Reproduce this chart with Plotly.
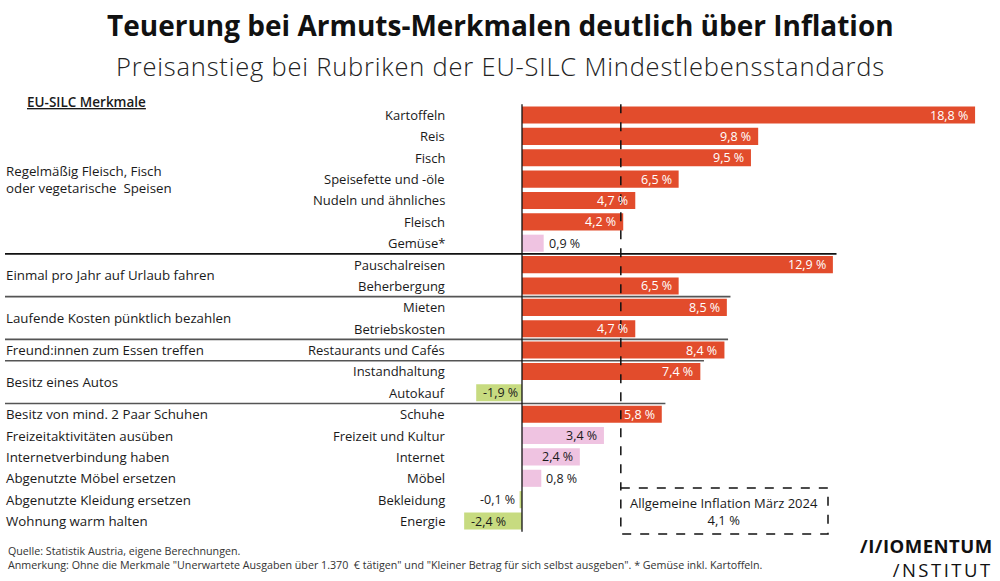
import plotly.graph_objects as go

# ---------------- data ----------------
categories = ["Kartoffeln", "Reis", "Fisch", "Speisefette und -öle", "Nudeln und ähnliches",
              "Fleisch", "Gemüse*", "Pauschalreisen", "Beherbergung", "Mieten",
              "Betriebskosten", "Restaurants und Cafés", "Instandhaltung", "Autokauf",
              "Schuhe", "Freizeit und Kultur", "Internet", "Möbel", "Bekleidung", "Energie"]
values = [18.8, 9.8, 9.5, 6.5, 4.7, 4.2, 0.9, 12.9, 6.5, 8.5, 4.7, 8.4, 7.4, -1.9,
          5.8, 3.4, 2.4, 0.8, -0.1, -2.4]
group_labels = ["Regelmäßig Fleisch, Fisch<br>oder vegetarische  Speisen",
                "Einmal pro Jahr auf Urlaub fahren",
                "Laufende Kosten pünktlich bezahlen",
                "Freund:innen zum Essen treffen",
                "Besitz eines Autos",
                "Besitz von mind. 2 Paar Schuhen",
                "Freizeitaktivitäten ausüben",
                "Internetverbindung haben",
                "Abgenutzte Möbel ersetzen",
                "Abgenutzte Kleidung ersetzen",
                "Wohnung warm halten"]
group_sizes = [7, 2, 2, 1, 2, 1, 1, 1, 1, 1, 1]
inflation = 4.1
inflation_label = "Allgemeine Inflation März 2024"

title = "Teuerung bei Armuts-Merkmalen deutlich über Inflation"
subtitle = "Preisanstieg bei Rubriken der EU-SILC Mindestlebensstandards"
header_left = "EU-SILC Merkmale"
source = "Quelle: Statistik Austria, eigene Berechnungen."
note = ("Anmerkung: Ohne die Merkmale \"Unerwartete Ausgaben über 1.370  € tätigen\" und "
        "\"Kleiner Betrag für sich selbst ausgeben\". * Gemüse inkl. Kartoffeln.")
logo_top = "/I/IOMENTUM"
logo_bottom = "/NSTITUT"

# ---------------- styling / geometry ----------------
W, H = 1000, 581
FONT = "Open Sans"
TXT = "#1a1a1a"
RED, PINK, GREEN = "#E24C2C", "#EFC3E1", "#C7DB80"
ZERO_PX, PX_PER = 522, 24.1          # x pixel of zero, pixels per percent
ROW0_PX, ROW_PX = 115, 21.37         # y pixel of first row centre, row pitch


def px_x(p):
    return p / W


def px_y(p):
    return 1 - p / H


def data_x(p):
    return (p - ZERO_PX) / PX_PER


def data_y(p):
    return (p - ROW0_PX) / ROW_PX


def fmt(v):
    return f"{v:.1f}".replace(".", ",") + " %"


colors = [RED if v > inflation else (PINK if v >= 0 else GREEN) for v in values]

fig = go.Figure()
fig.add_trace(go.Bar(
    x=values, y=categories, orientation="h",
    marker=dict(color=colors, line=dict(width=0)),
    hoverinfo="skip",
))

shapes = []
annotations = []

# value labels
for c, v, col in zip(categories, values, colors):
    inside = abs(v) >= 1.5
    tc = "white" if col == RED else TXT
    if v >= 0:
        xa, xs = ("right", -5) if inside else ("left", 3)
    else:
        xa, xs = ("left", 5) if inside else ("right", -3)
    annotations.append(dict(x=v, xref="x", y=c, yref="y", text=fmt(v),
                            xanchor=xa, xshift=xs, yanchor="middle", showarrow=False,
                            font=dict(family=FONT, size=12.5, color=tc)))

# category labels (right aligned left of the bars)
for c in categories:
    annotations.append(dict(x=px_x(447), xref="paper", y=c, yref="y", text=c,
                            xanchor="right", yanchor="middle", showarrow=False,
                            font=dict(family=FONT, size=13, color=TXT)))

# group labels + separator lines
start = 0
for gi, (lab, n) in enumerate(zip(group_labels, group_sizes)):
    centre = start + (n - 1) / 2
    annotations.append(dict(x=px_x(4), xref="paper", y=centre, yref="y", text=lab,
                            xanchor="left", yanchor="middle", showarrow=False, align="left",
                            font=dict(family=FONT, size=13.3, color=TXT)))
    end = start + n
    if gi < 5 and end < len(values):
        nxt = values[end:end + group_sizes[gi + 1]]
        shapes.append(dict(type="line", xref="x", yref="y",
                           x0=data_x(5), x1=max(nxt) + 0.15,
                           y0=end - 0.5, y1=end - 0.5,
                           line=dict(color="#111111" if gi == 0 else "#555555", width=1.6)))
    start = end

# zero axis line
shapes.append(dict(type="line", xref="x", yref="y", x0=0, x1=0,
                   y0=-0.5, y1=len(categories) - 0.5,
                   line=dict(color="#111111", width=1.3)))

# inflation dashed line + box
box_top, box_bot, box_right = data_y(488), data_y(534), data_x(828)
shapes.append(dict(type="line", xref="x", yref="y", x0=inflation, x1=inflation,
                   y0=-0.5, y1=box_top, line=dict(color="#111111", width=1.5, dash="dash")))
shapes.append(dict(type="rect", xref="x", yref="y", x0=inflation, x1=box_right,
                   y0=box_top, y1=box_bot, line=dict(color="#111111", width=1.5, dash="dash")))
box_cx = (inflation + box_right) / 2
annotations.append(dict(x=box_cx, xref="x", y=data_y(511.5), yref="y",
                        text=f"{inflation_label}<br>{fmt(inflation)}",
                        showarrow=False, xanchor="center", yanchor="middle", align="center",
                        font=dict(family=FONT, size=13, color=TXT)))

# titles
annotations.append(dict(x=0.5, xref="paper", y=px_y(25), yref="paper", text=f"<b>{title}</b>",
                        showarrow=False, xanchor="center", yanchor="middle",
                        font=dict(family=FONT, size=28, color="#111111")))
annotations.append(dict(x=0.5, xref="paper", y=px_y(66), yref="paper",
                        text=f"<span style='letter-spacing:0.8px'>{subtitle}</span>",
                        showarrow=False, xanchor="center", yanchor="middle",
                        font=dict(family=FONT, size=25.5, color="#222222", weight=300)))
annotations.append(dict(x=px_x(25), xref="paper", y=px_y(102), yref="paper",
                        text=f"<u>{header_left}</u>", showarrow=False,
                        xanchor="left", yanchor="middle",
                        font=dict(family=FONT, size=13.5, color=TXT, weight=600)))

# footer
annotations.append(dict(x=px_x(6), xref="paper", y=px_y(557.5), yref="paper",
                        text=f"{source}<br>{note}",
                        showarrow=False, xanchor="left", yanchor="middle", align="left",
                        font=dict(family=FONT, size=10.7, color="#333333")))

# logo
annotations.append(dict(x=px_x(995), xref="paper", y=px_y(557), yref="paper",
                        text=(f"<b><span style='letter-spacing:0.5px'>{logo_top}</span></b><br>"
                              f"<span style='letter-spacing:2.5px'>{logo_bottom}</span>"),
                        showarrow=False, xanchor="right", yanchor="middle", align="right",
                        font=dict(family=FONT, size=18.5, color="#111111")))

fig.update_layout(
    width=W, height=H, autosize=False,
    margin=dict(l=0, r=0, t=0, b=0),
    paper_bgcolor="white", plot_bgcolor="white",
    showlegend=False, bargap=0.2,
    xaxis=dict(domain=[0, 1], range=[data_x(0), data_x(W)], visible=False, fixedrange=True),
    yaxis=dict(domain=[0, 1], type="category", range=[data_y(H), data_y(0)],
               visible=False, fixedrange=True),
    shapes=shapes, annotations=annotations,
)

fig.write_html("out.html", config={"displayModeBar": False},
               post_script="document.body.style.margin='0';document.body.style.overflow='hidden';")
